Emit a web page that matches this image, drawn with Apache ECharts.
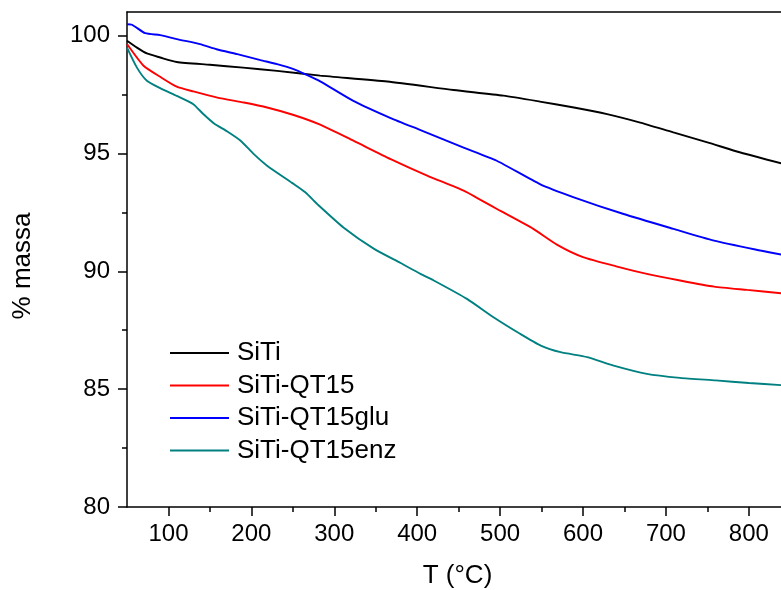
<!DOCTYPE html>
<html>
<head>
<meta charset="utf-8">
<script src="https://cdn.jsdelivr.net/npm/echarts@6/dist/echarts.min.js"></script>
<style>html,body{margin:0;padding:0;background:#fff}#c{width:781px;height:590px}</style>
</head>
<body>
<div id="c"></div>
<script>
const seriesNames = ['SiTi', 'SiTi-QT15', 'SiTi-QT15glu', 'SiTi-QT15enz'];
const seriesColors = ['#000000', '#ff0000', '#0000ff', '#008080'];
const xMajorTicks = [100, 200, 300, 400, 500, 600, 700, 800];
const xMinorTicks = [150, 250, 350, 450, 550, 650, 750];
const yMajorTicks = [80, 85, 90, 95, 100];
const yMinorTicks = [82.5, 87.5, 92.5, 97.5];
const xTitle = 'T (°C)';
const yTitle = '% massa';

const siti = [[50,99.78],[62,99.49],[74,99.24],[90,99.07],[110,98.88],[150,98.76],[190,98.64],[231,98.50],[283,98.30],[364,98.05],[444,97.69],[504,97.45],[548,97.20],[589,96.95],[629,96.67],[669,96.31],[709,95.89],[750,95.47],[790,95.04],[839,94.58]];
const sitiQT15 = [[50,99.64],[70,98.72],[90,98.25],[110,97.83],[130,97.63],[159,97.37],[191,97.16],[219,96.95],[251,96.63],[283,96.22],[323,95.54],[368,94.76],[412,94.06],[456,93.42],[478,93.00],[500,92.57],[540,91.80],[569,91.12],[600,90.60],[640,90.21],[677,89.89],[717,89.61],[758,89.35],[798,89.21],[839,89.07]];
const sitiQT15glu = [[50,100.48],[56,100.46],[72,100.10],[90,100.02],[110,99.85],[138,99.64],[158,99.42],[183,99.21],[211,98.96],[231,98.79],[251,98.58],[267,98.33],[283,98.06],[323,97.23],[368,96.50],[404,95.99],[456,95.25],[496,94.69],[548,93.70],[589,93.14],[649,92.43],[709,91.80],[758,91.30],[814,90.88],[839,90.71]];
const sitiQT15enz = [[50,99.49],[62,98.64],[74,98.08],[90,97.77],[110,97.44],[130,97.09],[142,96.67],[155,96.27],[171,95.93],[187,95.54],[203,94.97],[219,94.48],[249,93.75],[265,93.35],[281,92.80],[311,91.86],[348,90.95],[380,90.35],[404,89.89],[420,89.61],[460,88.83],[492,88.05],[524,87.35],[549,86.85],[573,86.57],[605,86.36],[637,86.00],[677,85.65],[717,85.48],[760,85.37],[800,85.26],[839,85.17]];
const seriesData = [siti, sitiQT15, sitiQT15glu, sitiQT15enz];

const FONT = 'Liberation Sans, Arial, sans-serif';
const XMIN = 50, XMAX = 840, YMIN = 80, YMAX = 101;
const axisLine = { show: true, lineStyle: { color: '#000', width: 1.5 } };

const chart = echarts.init(document.getElementById('c'), null, { renderer: 'canvas' });
chart.setOption({
  animation: false,
  backgroundColor: '#fff',
  grid: { left: 127, top: 12, width: 655, height: 495, containLabel: false, outerBoundsMode: 'none' },
  legend: {
    orient: 'vertical', left: 170, top: 340, padding: 0,
    icon: 'rect', itemWidth: 59, itemHeight: 2, itemGap: 6.5,
    textStyle: { fontFamily: FONT, fontSize: 26, color: '#000', lineHeight: 26, padding: [0, 0, 0, 3] },
    data: seriesNames
  },
  xAxis: [
    { type: 'value', min: XMIN, max: XMAX, position: 'bottom',
      axisLine: axisLine,
      axisTick: { show: true, inside: false, length: 9, lineStyle: { color: '#000', width: 1.5 }, customValues: xMajorTicks },
      axisLabel: { fontFamily: FONT, fontSize: 24, color: '#000', margin: 15, customValues: xMajorTicks },
      splitLine: { show: false },
      name: xTitle, nameLocation: 'middle', nameGap: 56,
      nameTextStyle: { fontFamily: FONT, fontSize: 26, color: '#000', padding: [0, 0, 0, 6] } },
    { type: 'value', min: XMIN, max: XMAX, position: 'bottom',
      axisLine: { show: false },
      axisTick: { show: true, length: 5, lineStyle: { color: '#000', width: 1.5 }, customValues: xMinorTicks },
      axisLabel: { show: false }, splitLine: { show: false } },
    { type: 'value', min: XMIN, max: XMAX, position: 'top',
      axisLine: axisLine, axisTick: { show: false }, axisLabel: { show: false }, splitLine: { show: false } }
  ],
  yAxis: [
    { type: 'value', min: YMIN, max: YMAX, position: 'left',
      axisLine: axisLine,
      axisTick: { show: true, inside: false, length: 9, lineStyle: { color: '#000', width: 1.5 }, customValues: yMajorTicks },
      axisLabel: { fontFamily: FONT, fontSize: 24, color: '#000', margin: 17, customValues: yMajorTicks },
      splitLine: { show: false } },
    { type: 'value', min: YMIN, max: YMAX, position: 'left',
      axisLine: { show: false },
      axisTick: { show: true, length: 5, lineStyle: { color: '#000', width: 1.5 }, customValues: yMinorTicks },
      axisLabel: { show: false }, splitLine: { show: false } }
  ],
  graphic: [
    { type: 'text', x: 23, y: 266, rotation: Math.PI / 2,
      style: { text: yTitle, fontFamily: FONT, fontSize: 26, fill: '#000', align: 'center', verticalAlign: 'middle' } }
  ],
  series: seriesNames.map((n, i) => ({
    name: n, type: 'line', xAxisIndex: 0, yAxisIndex: 0,
    data: seriesData[i], symbol: 'none', showSymbol: false, smooth: 0.2,
    lineStyle: { color: seriesColors[i], width: 1.9 },
    itemStyle: { color: seriesColors[i] }
  }))
});
</script>
</body>
</html>
